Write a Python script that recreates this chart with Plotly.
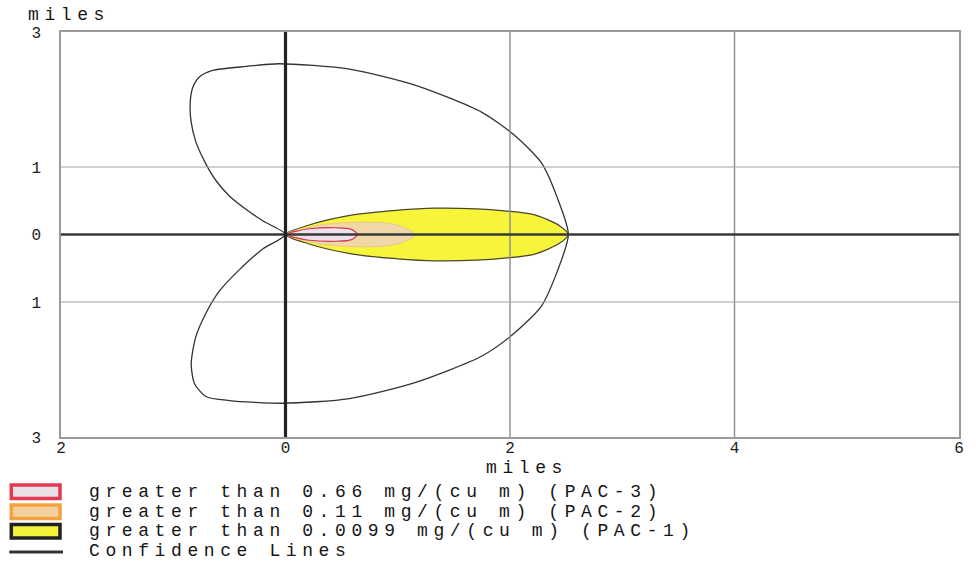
import plotly.graph_objects as go

# Threat zone outlines: miles downwind (x) and miles crosswind (y), starting at the source
pac1_x = [0, 0.21, 0.60, 1.00, 1.33, 1.70, 1.95, 2.22, 2.45, 2.52, 2.45, 2.22, 1.95, 1.70, 1.33, 1.00, 0.60, 0.21, 0]
pac1_y = [0, 0.14, 0.29, 0.36, 0.39, 0.38, 0.35, 0.29, 0.12, 0, -0.12, -0.29, -0.35, -0.38, -0.39, -0.36, -0.29, -0.14, 0]

pac2_x = [0, 0.15, 0.30, 0.60, 0.90, 1.05, 1.16, 1.05, 0.90, 0.60, 0.30, 0.15, 0]
pac2_y = [0, 0.08, 0.14, 0.18, 0.17, 0.11, 0, -0.11, -0.17, -0.18, -0.14, -0.08, 0]

pac3_x = [0, 0.10, 0.21, 0.45, 0.58, 0.64, 0.58, 0.45, 0.21, 0.10, 0]
pac3_y = [0, 0.05, 0.085, 0.10, 0.08, 0, -0.08, -0.10, -0.085, -0.05, 0]

# Wind-direction confidence envelope (upper lobe, downwind arc, lower lobe)
conf_x = [0, -0.20, -0.35, -0.50, -0.62, -0.72, -0.80, -0.84, -0.85, -0.83, -0.77, -0.65, -0.35,
          -0.06, 0.57, 1.16, 1.75, 2.04, 2.28, 2.42, 2.52,
          2.42, 2.28, 2.04, 1.75, 1.16, 0.57, -0.02, -0.50, -0.71, -0.81, -0.84, -0.80, -0.71,
          -0.59, -0.41, -0.20, 0]
conf_y = [0, 0.20, 0.37, 0.57, 0.80, 1.08, 1.38, 1.66, 1.91, 2.16, 2.33, 2.43, 2.49,
          2.53, 2.45, 2.21, 1.81, 1.47, 1.06, 0.55, 0,
          -0.55, -1.06, -1.46, -1.80, -2.19, -2.43, -2.50, -2.46, -2.40, -2.21, -1.92, -1.52, -1.17,
          -0.84, -0.52, -0.21, 0]

# Axis ticks (labels show distance from the source)
x_ticks = [-2, 0, 2, 4, 6]
x_tick_text = ["2", "0", "2", "4", "6"]
y_ticks = [-3, -1, 0, 1, 3]
y_tick_text = ["3", "1", "0", "1", "3"]
x_grid = [2, 4]
y_grid = [-1, 1]

legend_labels = [
    "greater than 0.66 mg/(cu m) (PAC-3)",
    "greater than 0.11 mg/(cu m) (PAC-2)",
    "greater than 0.0099 mg/(cu m) (PAC-1)",
    "Confidence Lines",
]

FONT = "Liberation Mono"
W, H = 976, 561
ML, MR, MT, MB = 61, 12, 32, 124


def paper(xp, yp):
    """Page pixel position -> paper fraction."""
    return (xp - ML) / (W - ML - MR), (H - MB - yp) / (H - MT - MB)


fig = go.Figure()

fig.add_trace(go.Scatter(
    x=pac1_x, y=pac1_y, fill="toself", fillcolor="#F6F53A",
    line=dict(color="#4A4630", width=1.2, shape="spline", smoothing=0.9),
    mode="lines", hoverinfo="skip"))
fig.add_trace(go.Scatter(
    x=pac2_x, y=pac2_y, fill="toself", fillcolor="#F0D8A8",
    line=dict(color="#EDC78F", width=1, shape="spline", smoothing=0.9),
    mode="lines", hoverinfo="skip"))
fig.add_trace(go.Scatter(
    x=pac3_x, y=pac3_y, fill="toself", fillcolor="#EEE2EE",
    line=dict(color="#D23A48", width=1.2, shape="spline", smoothing=0.9),
    mode="lines", hoverinfo="skip"))
fig.add_trace(go.Scatter(
    x=conf_x, y=conf_y,
    line=dict(color="#333333", width=1.3, shape="spline", smoothing=0.7),
    mode="lines", hoverinfo="skip"))

shapes = []
# thin grid lines and heavy zero lines, kept above the filled zones
for gx in x_grid:
    shapes.append(dict(type="line", xref="x", yref="paper", x0=gx, x1=gx, y0=0, y1=1,
                       line=dict(color="#8C8C8C", width=1.4), layer="above"))
for gy in y_grid:
    shapes.append(dict(type="line", xref="paper", yref="y", x0=0, x1=1, y0=gy, y1=gy,
                       line=dict(color="#A0A0A0", width=1.2), layer="above"))
shapes.append(dict(type="line", xref="paper", yref="y", x0=0, x1=1, y0=0, y1=0,
                   line=dict(color="#3A3A3A", width=2.6), layer="above"))
shapes.append(dict(type="line", xref="x", yref="paper", x0=0, x1=0, y0=0, y1=1,
                   line=dict(color="#222222", width=3.2), layer="above"))

# legend swatches
swatches = [
    (485, 498.5, "#E9E1E6", "#E23A52"),
    (505, 518.5, "#F3CFA0", "#F4A23E"),
    (524.5, 538, "#F2F23A", "#222222"),
]
for y0p, y1p, fc, lc in swatches:
    x0, y0 = paper(11, y0p)
    x1, y1 = paper(60, y1p)
    shapes.append(dict(type="rect", xref="paper", yref="paper", x0=x0, x1=x1, y0=y0, y1=y1,
                       fillcolor=fc, line=dict(color=lc, width=3.5), layer="above"))
lx0, ly = paper(9, 552)
lx1, _ = paper(63, 552)
shapes.append(dict(type="line", xref="paper", yref="paper", x0=lx0, x1=lx1, y0=ly, y1=ly,
                   line=dict(color="#333333", width=3)))

annotations = []
for label, yp in zip(legend_labels, [491.5, 511.5, 531, 550.5]):
    ax, ay = paper(87, yp)
    annotations.append(dict(text=label, xref="paper", yref="paper", x=ax, y=ay,
                            xanchor="left", yanchor="middle", align="left", showarrow=False,
                            font=dict(family=FONT, size=18, color="#151515")))
tx, ty = paper(69, 15)
annotations.append(dict(text="miles", xref="paper", yref="paper", x=tx, y=ty,
                        xanchor="center", yanchor="middle", showarrow=False,
                        font=dict(family=FONT, size=18, color="#151515")))
tx, ty = paper(530, 468)
annotations.append(dict(text="miles", xref="paper", yref="paper", x=tx, y=ty,
                        xanchor="center", yanchor="middle", showarrow=False,
                        font=dict(family=FONT, size=18, color="#151515")))

fig.update_layout(
    width=W, height=H,
    margin=dict(l=ML, r=MR, t=MT, b=MB, pad=0),
    paper_bgcolor="white", plot_bgcolor="white",
    showlegend=False,
    font=dict(family=FONT, size=16, color="#222222"),
    shapes=shapes, annotations=annotations,
)
fig.update_xaxes(range=[-2, 6], tickvals=x_ticks, ticktext=x_tick_text,
                 showgrid=False, zeroline=False, showline=True, mirror=True,
                 linecolor="#9A9A9A", linewidth=1.5, ticks="", ticklabelstandoff=-5,
                 fixedrange=True)
fig.update_yaxes(range=[-3, 3], tickvals=y_ticks, ticktext=y_tick_text,
                 showgrid=False, zeroline=False, showline=True, mirror=True,
                 linecolor="#9A9A9A", linewidth=1.5, ticks="", ticklabelstandoff=15,
                 fixedrange=True)

# widen the typewriter-style captions
spacing_js = """
var gd = document.getElementById('{plot_id}');
gd.querySelectorAll('.annotation-text').forEach(function (t) {
  if (t.textContent.length > 1) { t.style.letterSpacing = '5.6px'; }
});
"""
fig.write_html("out.html", post_script=spacing_js, config={"displayModeBar": False})
